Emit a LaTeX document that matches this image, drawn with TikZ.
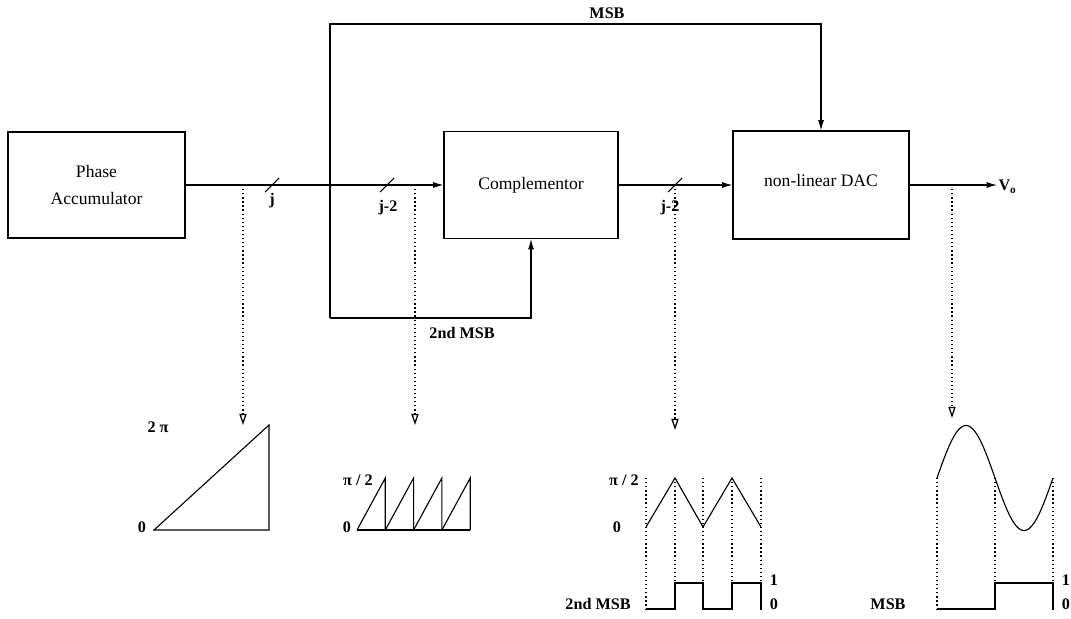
\documentclass[tikz,border=0pt]{standalone}
\usepackage{fontspec}
\setmainfont{Liberation Serif}
\usepackage{tikz}
\usetikzlibrary{arrows.meta, calc}
\tikzset{
	block/.style={rectangle, draw, line width=0.8pt, align=center, inner sep=0pt, font=\fontsize{12.5}{19}\selectfont},
	arr/.style={-{Latex[length=2.6mm, width=1.5mm]}},
	probe/.style={dotted, line width=0.9pt, -{Triangle[open, length=2.8mm, width=1.8mm]}},
	lbl/.style={font=\fontsize{11.5}{13}\selectfont\bfseries, inner sep=0pt}
}

\begin{document}
\begin{tikzpicture}[
        x=0.025cm, y=-0.025cm, line width=0.75pt,
        wave/.style={line width=0.8pt},
        guide/.style={dotted, line width=0.9pt}
    ]
        \useasboundingbox (0,0) rectangle (1071,618);

        \node[block, minimum width=4.425cm, minimum height=2.65cm] (acc) at (96.5,185) {Phase\\Accumulator};
        \node[block, minimum width=4.35cm, minimum height=2.675cm] (comp) at (531,185) {Complementor};
        \node[block, minimum width=4.4cm, minimum height=2.7cm] (dac) at (821,185) {\raisebox{7pt}{non-linear DAC}};

        \coordinate (tap) at (330,185);
        \coordinate (msb) at (330,24);
        \coordinate (msb2) at (330,318);
        \coordinate (vo) at (997,185);
        \coordinate (p1) at (243,185);
        \coordinate (p2) at (415,185);
        \coordinate (p3) at (675,185);
        \coordinate (p4) at (952,185);

        \draw[arr] (acc.east) -- (comp.west);
        \draw[arr] (comp.east) -- (dac.west);
        \draw[arr] (dac.east) -- (vo);
        \node[lbl, anchor=west] (vout) at (998,187) {V\textsubscript{o}};

        \draw[arr] (msb2) -- (msb) -| (dac.north);
        \draw[arr] (msb2) -| (comp.south);
        \node[lbl] (msblbl) at (607,13) {MSB};
        \node[lbl] (msb2lbl) at (462,333) {2nd MSB};

        % bus width marks
        \foreach \x in {272,387,675}
            \draw (\x-7,192) -- (\x+7,178);
        \node[lbl] (wj) at (272,201) {j};
        \node[lbl] (wj2) at (388,208) {j-2};
        \node[lbl] (wj3) at (670,208) {j-2};

        \draw[probe] (p1) -- (p1 |- 0,425);
        \draw[probe] (p2) -- (p2 |- 0,425);
        \draw[probe] (p3) -- (p3 |- 0,430);
        \draw[probe] (p4) -- (p4 |- 0,418);

        % phase ramp
        \draw[wave] (154,530) -- (269,425) -- (269,530) -- cycle;
        \node[lbl] (r2pi) at (158,427) {2 π};
        \node[lbl] (r0) at (142,527) {0};

        % folded phase
        \draw[wave] (357,530) -- (470,530);
        \foreach \x in {357,385.3,413.6,441.9}
            \draw[wave] (\x,530) -- (\x+28.3,478) -- (\x+28.3,530);
        \node[lbl] (spi) at (358,480) {π / 2};
        \node[lbl] (s0) at (347,527) {0};

        % complemented phase
        \foreach \x in {646,675,703,732,761}
            \draw[guide] (\x,478) -- (\x,609);
        \draw[wave] (646,527) -- (675,478) -- (703,527) -- (732,478) -- (761,527);
        \draw[wave] (646,609) -- (675,609) -- (675,583) -- (703,583) -- (703,609) -- (732,609) -- (732,583) -- (761,583) -- (761,609);
        \node[lbl] (tpi) at (624,480) {π / 2};
        \node[lbl] (t0) at (617,527) {0};
        \node[lbl] (tmsb) at (598,604) {2nd MSB};
        \node[lbl] (t1) at (774,580) {1};
        \node[lbl] (t00) at (774,604) {0};

        % output sine
        \foreach \x in {937,995,1053}
            \draw[guide] (\x,478) -- (\x,609);
        \draw[wave] plot[domain=0:116, samples=80, smooth] ({937+\x},{478-52.5*sin(\x/116*360)});
        \draw[wave] (937,609) -- (995,609) -- (995,583) -- (1053,583) -- (1053,609);
        \node[lbl] (smsb) at (888,604) {MSB};
        \node[lbl] (s1) at (1066,580) {1};
        \node[lbl] (s00) at (1066,604) {0};
    \end{tikzpicture}
\end{document}
